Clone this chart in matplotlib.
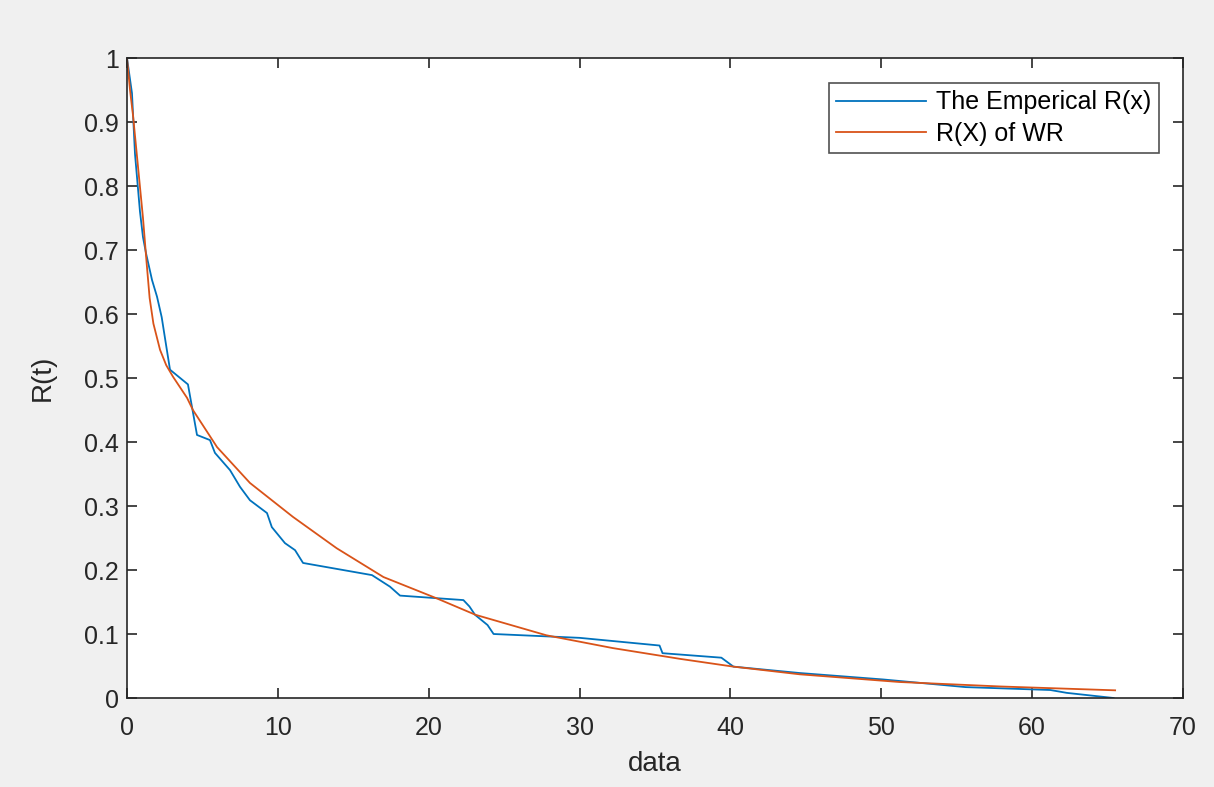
import matplotlib
matplotlib.use('Agg')
import matplotlib.pyplot as plt

emp_x = [0.0, 0.33, 0.53, 0.86, 1.06, 1.26, 1.66, 1.99, 2.3, 2.5, 2.85, 4.04,
         4.64, 5.5, 5.83, 6.83, 7.49, 8.15, 9.28, 9.6, 10.47, 11.14, 11.67,
         16.24, 17.43, 18.1, 22.3, 22.7, 23.07, 23.9, 24.3, 30.0, 35.3, 35.5,
         39.4, 40.2, 44.6, 50.1, 55.6, 61.2, 62.3, 65.4]
emp_y = [1.0, 0.945, 0.85, 0.76, 0.72, 0.695, 0.653, 0.627, 0.595, 0.565, 0.513, 0.49,
         0.411, 0.403, 0.383, 0.356, 0.33, 0.309, 0.289, 0.267, 0.242, 0.231, 0.211,
         0.192, 0.174, 0.16, 0.153, 0.143, 0.13, 0.114, 0.1, 0.094, 0.082, 0.07,
         0.063, 0.049, 0.039, 0.029, 0.017, 0.0125, 0.008, 0.0]

# fitted curve R(X) of WR
wr_x = [0.0, 0.2, 0.4, 0.73, 1.06, 1.3, 1.5, 1.75, 2.19, 2.6, 3.05, 3.98, 4.37,
        5.97, 8.15, 11.0, 13.9, 17.0, 20.5, 23.1, 27.8, 32.2, 36.7, 40.2, 44.6,
        51.2, 57.9, 65.5]
wr_y = [1.0, 0.95, 0.91, 0.83, 0.75, 0.68, 0.625, 0.585, 0.544, 0.52, 0.502, 0.469,
        0.45, 0.392, 0.336, 0.283, 0.234, 0.189, 0.156, 0.13, 0.098, 0.078, 0.061,
        0.049, 0.037, 0.025, 0.018, 0.012]

plt.rcParams['font.family'] = ['Liberation Sans', 'DejaVu Sans']

fig = plt.figure(figsize=(12.14, 7.87), dpi=100, facecolor='#f0f0f0')
ax = fig.add_axes([127 / 1214, 89 / 787, 1056 / 1214, 640 / 787])

ax.plot(emp_x, emp_y, color='#0072BD', linewidth=1.3, label='The Emperical R(x)')
ax.plot(wr_x, wr_y, color='#D95319', linewidth=1.3, label='R(X) of WR')

ax.set_xlim(0, 70)
ax.set_ylim(0, 1)
ax.set_xticks(range(0, 71, 10))
ax.set_yticks([i / 10 for i in range(11)])
ax.set_yticklabels(['0', '0.1', '0.2', '0.3', '0.4', '0.5', '0.6', '0.7', '0.8', '0.9', '1'])

for s in ax.spines.values():
    s.set_color('#262626')
    s.set_linewidth(1.2)
ax.tick_params(direction='in', length=7, width=1.2, colors='#262626',
               labelsize=18, top=True, right=True)
ax.tick_params(axis='x', pad=13)
ax.tick_params(axis='y', pad=6)

ax.set_xlabel('data', fontsize=20, color='#262626', labelpad=8)
ax.set_ylabel('R(t)', fontsize=20, color='#262626', labelpad=20)

leg = ax.legend(loc='upper right', bbox_to_anchor=(0.9773, 0.961), fontsize=18,
                frameon=True, fancybox=False, handlelength=3.6, borderpad=0.3,
                labelspacing=0.3, handletextpad=0.4, borderaxespad=0)
leg.get_frame().set_edgecolor('#262626')
leg.get_frame().set_linewidth(1.2)

fig.savefig('out.png', dpi=100, facecolor=fig.get_facecolor())
